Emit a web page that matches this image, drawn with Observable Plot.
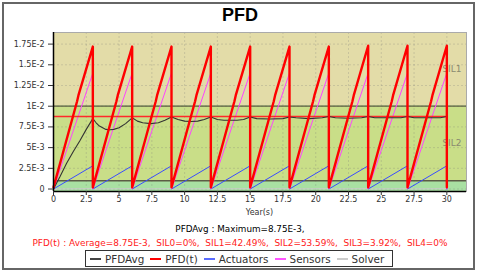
<!DOCTYPE html>
<html>
<head>
<meta charset="utf-8">
<script src="https://cdn.jsdelivr.net/npm/d3@7"></script>
<script src="https://cdn.jsdelivr.net/npm/@observablehq/plot@0.6"></script>
<style>
  html, body { margin: 0; padding: 0; background: #fff; }
  #wrap { position: relative; width: 480px; height: 273px; overflow: hidden; background: #fff; font-family: "DejaVu Sans", sans-serif; }
  #outer { position: absolute; left: 2px; top: 2px; width: 469px; height: 264px; border: 2px solid #666; }
  #title { position: absolute; left: 0; width: 480px; top: 5px; line-height: 18px; text-align: center; font: bold 18px "Liberation Sans", Arial, sans-serif; color: #000; }
  #chart { position: absolute; left: 0; top: 24px; }
  .txt { position: absolute; white-space: pre; line-height: 12px; }
  #xlabel { left: 200px; width: 119px; top: 207px; text-align: center; font-size: 8px; color: #333; }
  #stat1 { left: 0; width: 480px; top: 223px; text-align: center; font-size: 8.8px; color: #000; }
  #stat2 { left: 0; width: 480px; top: 237px; text-align: center; font-size: 8.95px; color: #ff1a1a; }
  #legend { position: absolute; left: 85px; top: 250px; width: 306px; height: 15px; border: 1.5px solid #333; background: #fff; display: flex; align-items: center; font-size: 10.4px; color: #333; }
  .item { display: flex; align-items: center; margin-left: 4px; margin-right: 2px; }
  .sw { display: inline-block; width: 11px; height: 2px; margin-right: 4px; }
</style>
</head>
<body>
<div id="wrap">
  <div id="outer"></div>
  <div id="title"></div>
  <div id="chart"></div>
  <div id="xlabel" class="txt"></div>
  <div id="stat1" class="txt"></div>
  <div id="stat2" class="txt"></div>
  <div id="legend"></div>
</div>
<script>
// ---------- data ----------
const titleText = "PFD";
const xAxisLabel = "Year(s)";
const xTicks = [0, 2.5, 5, 7.5, 10, 12.5, 15, 17.5, 20, 22.5, 25, 27.5, 30];
const xTickLabels = ["0", "2.5", "5", "7.5", "10", "12.5", "15", "17.5", "20", "22.5", "25", "27.5", "30"];
const yTicks = [0, 0.0025, 0.005, 0.0075, 0.01, 0.0125, 0.015, 0.0175];
const yTickLabels = ["0", "2.5E-3", "5E-3", "7.5E-3", "1E-2", "1.25E-2", "1.5E-2", "1.75E-2"];
const xDomain = [0, 31.5];
const yDomain = [-0.0003, 0.0189];

const bandNames = ["SIL1", "SIL2"];
const bandLow = [0.01, 0.001];
const bandHigh = [0.1, 0.01];
const bandColors = ["#e3dca8", "#c9de88"];
const baseBandColor = "#a9e0a2";

// PFD(t)
const pfdYears = [0, 1.8, 1.9, 3, 3, 4.8, 4.9, 6, 6, 7.8, 7.9, 9, 9, 10.8, 10.9, 12, 12, 13.8, 13.9, 15,
  15, 16.8, 16.9, 18, 18, 19.8, 19.9, 21, 21, 22.8, 22.9, 24, 24, 25.8, 25.9, 27, 27, 28.8, 28.9, 30, 30];
const pfdValues = [0.0002, 0.0106, 0.0113, 0.0172, 0.0002, 0.0106, 0.0113, 0.0172, 0.0002, 0.0106, 0.0113, 0.0172,
  0.0002, 0.0106, 0.0113, 0.0172, 0.0002, 0.0106, 0.0113, 0.0172, 0.0002, 0.0106, 0.0113, 0.0172,
  0.0002, 0.0106, 0.0113, 0.0172, 0.0002, 0.0106, 0.0113, 0.0173, 0.0002, 0.0106, 0.0113, 0.0173,
  0.0002, 0.0106, 0.0113, 0.0173, 0.0002];

// Sensors
const sensorYears = [0, 3, 3, 6, 6, 9, 9, 12, 12, 15, 15, 18, 18, 21, 21, 24, 24, 27, 27, 30, 30];
const sensorValues = [0, 0.0140, 0, 0.0140, 0, 0.0140, 0, 0.0140, 0, 0.0140, 0, 0.0140, 0, 0.0140, 0, 0.0140, 0, 0.0140, 0, 0.0140, 0];

// Actuators
const actYears = [0, 3, 3, 6, 6, 9, 9, 12, 12, 15, 15, 18, 18, 21, 21, 24, 24, 27, 27, 30, 30];
const actValues = [0, 0.0028, 0, 0.0028, 0, 0.0028, 0, 0.0028, 0, 0.0028, 0, 0.0028, 0, 0.0028, 0, 0.0028, 0, 0.0028, 0, 0.0028, 0];

// Solver
const solverYears = [0, 3, 3, 6, 6, 9, 9, 12, 12, 15, 15, 18, 18, 21, 21, 24, 24, 27, 27, 30, 30];
const solverValues = [0, 0.00004, 0, 0.00004, 0, 0.00004, 0, 0.00004, 0, 0.00004, 0, 0.00004, 0, 0.00004, 0, 0.00004, 0, 0.00004, 0, 0.00004, 0];

// PFDAvg (running average)
const avgYears = [0, 0.5, 1, 1.5, 2, 2.5, 3,
  3.25, 3.5, 3.75, 4, 4.3, 4.6, 5, 5.5, 6,
  6.4, 6.8, 7.4, 8, 8.5, 9,
  9.5, 10, 10.5, 11, 11.5, 12,
  12.5, 13, 13.5, 14, 14.5, 15,
  15.5, 16.5, 17.5, 18,
  18.5, 19.5, 20.5, 21,
  21.5, 22.5, 23.5, 24,
  24.5, 25.5, 26.5, 27,
  27.5, 28.5, 29.5, 30];
const avgValues = [0, 0.0015, 0.0031, 0.0045, 0.0058, 0.0072, 0.0085,
  0.0080, 0.0076, 0.0074, 0.0072, 0.00715, 0.0072, 0.0074, 0.0079, 0.0086,
  0.0082, 0.0080, 0.0079, 0.0080, 0.0083, 0.0087,
  0.0084, 0.0082, 0.00815, 0.0082, 0.0084, 0.0087,
  0.0084, 0.0083, 0.0083, 0.0083, 0.0084, 0.0087,
  0.0085, 0.00845, 0.0085, 0.0087,
  0.0086, 0.0085, 0.0086, 0.00875,
  0.0086, 0.00855, 0.0086, 0.00875,
  0.0086, 0.0086, 0.0086, 0.00875,
  0.0086, 0.0086, 0.0086, 0.00875];

const pfdAvgMax = 0.00875;
const pfdAvgSpan = [0, 30];

const stat1Text = "PFDAvg : Maximum=8.75E-3,";
const stat2Text = "PFD(t) : Average=8.75E-3,  SIL0=0%,  SIL1=42.49%,  SIL2=53.59%,  SIL3=3.92%,  SIL4=0%";
const legendNames = ["PFDAvg", "PFD(t)", "Actuators", "Sensors", "Solver"];
const legendColors = ["#444", "#ff0000", "#5a6cff", "#ff55ff", "#cccccc"];

// ---------- build ----------
const toPts = (xs, ys) => xs.map((x, i) => ({x, y: ys[i]}));
const bands = bandNames.map((name, i) => ({name, lo: bandLow[i], hi: bandHigh[i], color: bandColors[i],
  mid: (bandLow[i] + Math.min(bandHigh[i], yDomain[1])) / 2}));

const chart = Plot.plot({
  width: 480,
  height: 196,
  marginLeft: 53,
  marginRight: 14,
  marginTop: 8,
  marginBottom: 29,
  style: {fontFamily: "DejaVu Sans, sans-serif", fontSize: "8px", color: "#333", background: "transparent"},
  x: {domain: xDomain},
  y: {domain: yDomain},
  marks: [
    Plot.frame({fill: baseBandColor, stroke: null}),
    Plot.rectY(bands, {x1: xDomain[0], x2: xDomain[1], y1: "lo", y2: "hi", fill: "color", clip: true}),
    Plot.gridX(xTicks, {stroke: "#777", strokeOpacity: 0.25, strokeDasharray: "2,2"}),
    Plot.gridY(yTicks, {stroke: "#777", strokeOpacity: 0.25, strokeDasharray: "2,2"}),
    Plot.ruleY([bandLow[0], bandLow[1]], {stroke: "#5c5c45", strokeWidth: 1.3}),
    Plot.text(bands, {x: xDomain[1], y: "mid", text: "name", textAnchor: "end", dx: -5, fill: "#8a8a70", fontSize: 9}),
    Plot.line(toPts(solverYears, solverValues), {x: "x", y: "y", stroke: legendColors[4], strokeWidth: 1}),
    Plot.line(toPts(actYears, actValues), {x: "x", y: "y", stroke: "#3a4cff", strokeWidth: 1}),
    Plot.line(toPts(sensorYears, sensorValues), {x: "x", y: "y", stroke: "#ff44ff", strokeWidth: 1}),
    Plot.ruleY([pfdAvgMax], {x1: pfdAvgSpan[0], x2: pfdAvgSpan[1], stroke: "#ff2a2a", strokeWidth: 1.5}),
    Plot.line(toPts(avgYears, avgValues), {x: "x", y: "y", stroke: "#333", strokeWidth: 1.1}),
    Plot.line(toPts(pfdYears, pfdValues), {x: "x", y: "y", stroke: "#ff0000", strokeWidth: 2.4}),
    Plot.frame({stroke: "#aaa"}),
    Plot.ruleX([xDomain[0]], {stroke: "#000", strokeWidth: 1.5}),
    Plot.ruleY([yDomain[0]], {stroke: "#000", strokeWidth: 1.5}),
    Plot.axisX({ticks: xTicks, tickFormat: (d, i) => xTickLabels[i], tickSize: 4, tickPadding: 1, label: null, fill: "#333"}),
    Plot.axisY({ticks: yTicks, tickFormat: (d, i) => yTickLabels[i], tickSize: 5, tickPadding: 4, label: null, fill: "#333"})
  ]
});
document.getElementById("chart").appendChild(chart);

document.getElementById("title").textContent = titleText;
document.getElementById("xlabel").textContent = xAxisLabel;
document.getElementById("stat1").textContent = stat1Text;
document.getElementById("stat2").textContent = stat2Text;

const legend = document.getElementById("legend");
legendNames.forEach((name, i) => {
  const it = document.createElement("div");
  it.className = "item";
  const sw = document.createElement("span");
  sw.className = "sw";
  sw.style.background = legendColors[i];
  const tx = document.createElement("span");
  tx.textContent = name;
  it.appendChild(sw);
  it.appendChild(tx);
  legend.appendChild(it);
});
</script>
</body>
</html>
